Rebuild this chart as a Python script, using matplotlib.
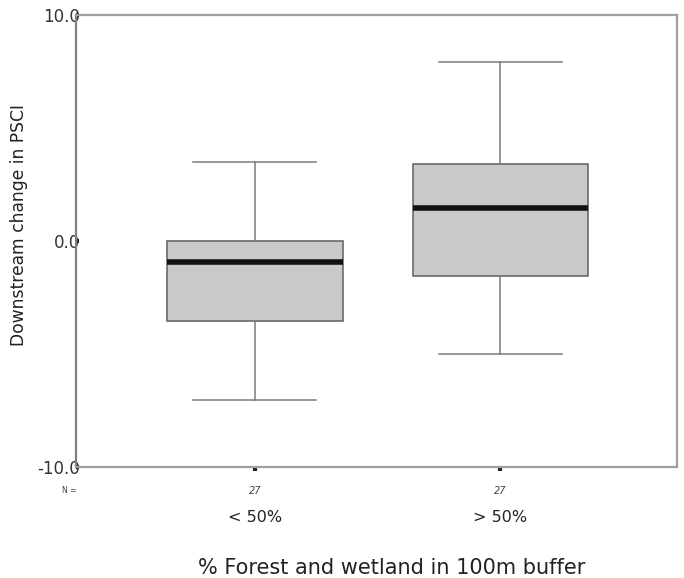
import matplotlib
matplotlib.use("Agg")
import matplotlib.pyplot as plt

# data
groups = ["< 50%", "> 50%"]
counts = [27, 27]
med = [-0.95, 1.45]
q1 = [-3.55, -1.55]
q3 = [0.0, 3.4]
whislo = [-7.05, -5.0]
whishi = [3.5, 7.9]
yticks = [-10.0, 0.0, 10.0]

stats = []
for i in range(len(groups)):
    stats.append(dict(med=med[i], q1=q1[i], q3=q3[i],
                      whislo=whislo[i], whishi=whishi[i], fliers=[]))

fig = plt.figure(figsize=(6.84, 5.78), dpi=100)
ax = fig.add_axes([0.111, 0.192, 0.879, 0.782])

ax.bxp(stats, positions=[1, 2], widths=0.715, patch_artist=True,
       showfliers=False,
       boxprops=dict(facecolor="#c9c9c9", edgecolor="#6a6a6a", linewidth=1.2),
       medianprops=dict(color="#111111", linewidth=4, solid_capstyle="butt"),
       whiskerprops=dict(color="#7a7a7a", linewidth=1.1),
       capprops=dict(color="#7a7a7a", linewidth=1.1),
       capwidths=0.5)

ax.set_xlim(0.272, 2.72)
ax.set_ylim(-10, 10)

for s in ax.spines.values():
    s.set_color("#a0a0a0")
    s.set_linewidth(1.6)
ax.spines["left"].set_color("#808080")

ax.set_yticks(yticks)
ax.set_yticklabels(["%.1f" % v for v in yticks], fontsize=12, color="#333333")
ax.tick_params(axis="y", direction="in", length=2, width=3, pad=-3, color="#111111")
ax.set_xticks([1, 2])
ax.set_xticklabels(["", ""])
ax.tick_params(axis="x", direction="out", length=3, width=3, color="#222222")

ax.set_ylabel("Downstream change in PSCI", fontsize=12.3, color="#222222")
ax.yaxis.set_label_coords(-0.08, 0.535)

# N counts and group names under the axis
ax.annotate("N =", xy=(0.272, 0), xycoords=("data", "axes fraction"),
            xytext=(-10, -17), textcoords="offset points", fontsize=5.5,
            ha="left", va="center", color="#444444")
for i, g in enumerate(groups):
    ax.annotate(str(counts[i]), xy=(i + 1, 0), xycoords=("data", "axes fraction"),
                xytext=(0, -17), textcoords="offset points", fontsize=7,
                style="italic", ha="center", va="center", color="#444444")
    ax.annotate(g, xy=(i + 1, 0), xycoords=("data", "axes fraction"),
                xytext=(0, -36), textcoords="offset points", fontsize=11.5,
                ha="center", va="center", color="#222222")

fig.text(0.573, 0.017, "% Forest and wetland in 100m buffer", fontsize=15,
         ha="center", va="center", color="#222222")

fig.savefig("out.png", dpi=100)
